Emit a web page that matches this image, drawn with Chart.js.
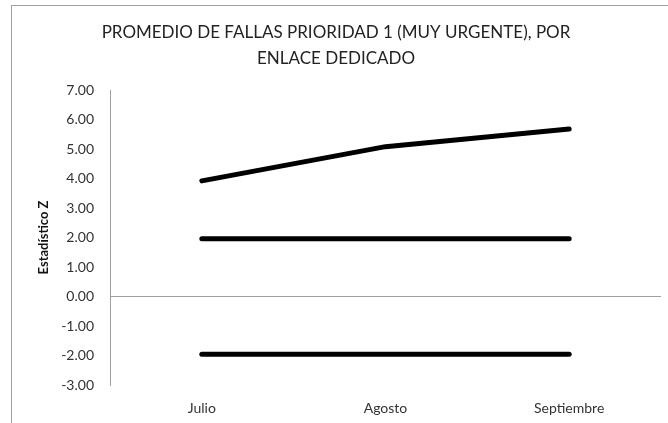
<!DOCTYPE html>
<html>
<head>
<meta charset="utf-8">
<script src="https://cdn.jsdelivr.net/npm/chart.js@4"></script>
<style>
  html, body { margin: 0; padding: 0; background: #fff; overflow: hidden; }
  #frame { position: absolute; left: 11px; top: 5px; width: 800px; height: 600px;
           border-left: 1px solid #a0a0a0; border-top: 1px solid #a0a0a0; }
  #wrap { position: absolute; left: 0; top: 0; width: 668px; height: 423px; }
</style>
</head>
<body>
<div id="frame"></div>
<div id="wrap"><canvas id="c" width="668" height="423"></canvas></div>
<script>
// valores
const meses = ['Julio', 'Agosto', 'Septiembre'];
const zPromedio = [3.92, 5.08, 5.68];
const limSup = [1.96, 1.96, 1.96];
const limInf = [-1.96, -1.96, -1.96];
const tituloLineas = ['PROMEDIO DE FALLAS PRIORIDAD 1 (MUY URGENTE), POR', 'ENLACE DEDICADO'];

const FONT = "Lato, 'Open Sans', sans-serif";
const GRIS = '#a0a0a0';

function serie(label, data) {
  return { label, data, borderColor: '#000', backgroundColor: '#000',
    borderWidth: 5, borderCapStyle: 'round', borderJoinStyle: 'round',
    pointRadius: 0, tension: 0, fill: false };
}

new Chart(document.getElementById('c'), {
  type: 'line',
  data: {
    labels: meses,
    datasets: [serie('Z', zPromedio), serie('Lim sup', limSup), serie('Lim inf', limInf)]
  },
  options: {
    responsive: false, animation: false,
    layout: { padding: { left: 11, right: 7, top: 0, bottom: 0 } },
    plugins: {
      legend: { display: false },
      tooltip: { enabled: false },
      title: { display: true, text: tituloLineas, color: '#222',
        font: { family: FONT, size: 17, weight: 'normal', lineHeight: 1.5 },
        padding: { top: 20, bottom: 19 } }
    },
    scales: {
      x: {
        offset: true,
        grid: { display: false, drawTicks: false, offset: true },
        border: { display: false },
        ticks: { color: '#333', font: { family: FONT, size: 14 }, padding: 15 },
        afterFit: s => { s.height = 38; }
      },
      y: {
        min: -3, max: 7,
        grid: { drawTicks: false, color: c => c.tick && c.tick.value === 0 ? GRIS : 'transparent', lineWidth: 1 },
        border: { display: true, color: GRIS, width: 1 },
        ticks: { stepSize: 1, color: '#333', font: { family: FONT, size: 14 }, padding: 16,
          callback: v => Number(v).toFixed(2) },
        title: { display: true, text: 'Estadístico Z', color: '#111',
          font: { family: FONT, size: 13, weight: 'bold' }, padding: { top: 25, bottom: 0 } },
        afterFit: s => { s.width = 99; }
      }
    }
  }
});
</script>
</body>
</html>
